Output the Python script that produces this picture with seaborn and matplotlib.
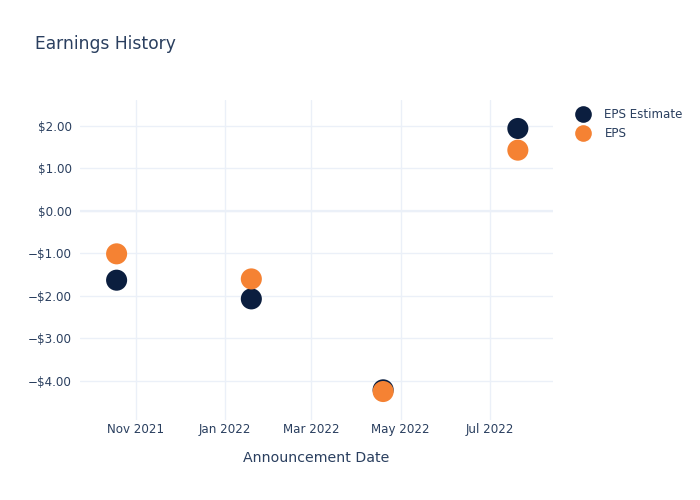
import matplotlib
matplotlib.use("Agg")
import matplotlib.pyplot as plt
import matplotlib.dates as mdates
from matplotlib.ticker import FuncFormatter, FixedLocator
from matplotlib.lines import Line2D
import seaborn as sns
import pandas as pd

dates = ["2021-10-19", "2022-01-19", "2022-04-19", "2022-07-20"]
eps_estimate = [-1.63, -2.07, -4.21, 1.94]
eps_actual = [-1.01, -1.60, -4.25, 1.43]
series_names = ["EPS Estimate", "EPS"]
x_ticks = ["2021-11-01", "2022-01-01", "2022-03-01", "2022-05-01", "2022-07-01"]
y_ticks = [-4, -3, -2, -1, 0, 1, 2]

df = pd.DataFrame({
    "date": pd.to_datetime(dates * 2),
    "value": eps_estimate + eps_actual,
    "series": [series_names[0]] * 4 + [series_names[1]] * 4,
})

sns.set_theme(style="white")
plt.rcParams["font.family"] = ["DejaVu Sans"]
text_color = "#2a3f5f"
grid_color = "#EBF0F8"

fig = plt.figure(figsize=(7, 5), dpi=100)
ax = fig.add_axes([80/700, 80/500, 473/700, 320/500])

palette = {"EPS Estimate": "#0b1e3f", "EPS": "#f58233"}
sns.scatterplot(data=df, x="date", y="value", hue="series", palette=palette,
                s=230, edgecolor="none", ax=ax, legend=False, zorder=3)

ax.set_xlim(pd.Timestamp("2021-09-24"), pd.Timestamp("2022-08-13"))
ax.set_ylim(-4.92, 2.61)

ax.xaxis.set_major_locator(FixedLocator(mdates.date2num(pd.to_datetime(x_ticks))))
ax.xaxis.set_major_formatter(mdates.DateFormatter("%b %Y"))
ax.set_yticks(y_ticks)

def fmt(v, pos):
    if v < 0:
        return "\u2212$%.2f" % abs(v)
    return "$%.2f" % v
ax.yaxis.set_major_formatter(FuncFormatter(fmt))

ax.grid(True, color=grid_color, linewidth=1, zorder=0)
ax.axhline(0, color=grid_color, linewidth=1.6, zorder=1)
for s in ax.spines.values():
    s.set_visible(False)
ax.tick_params(axis="both", length=0, labelsize=8.6, colors=text_color)
ax.tick_params(axis="x", pad=2)
ax.tick_params(axis="y", pad=6)
ax.set_xlabel("Announcement Date", fontsize=10.2, color=text_color, labelpad=11)
ax.set_ylabel("")

fig.text(35/700, 1 - 44/500, "Earnings History", fontsize=12.3, color=text_color,
         va="center", ha="left")

handles = [Line2D([0], [0], marker="o", linestyle="", markersize=12,
                  markerfacecolor=palette[k], markeredgecolor="none") for k in series_names]
leg = fig.legend(handles, series_names, loc="upper left",
                 bbox_to_anchor=(565/700, 1 - 97/500), frameon=False,
                 fontsize=8.6, handletextpad=1.2, labelspacing=0.55, handlelength=1.2)
for t in leg.get_texts():
    t.set_color(text_color)

fig.savefig("out.png", dpi=100)
